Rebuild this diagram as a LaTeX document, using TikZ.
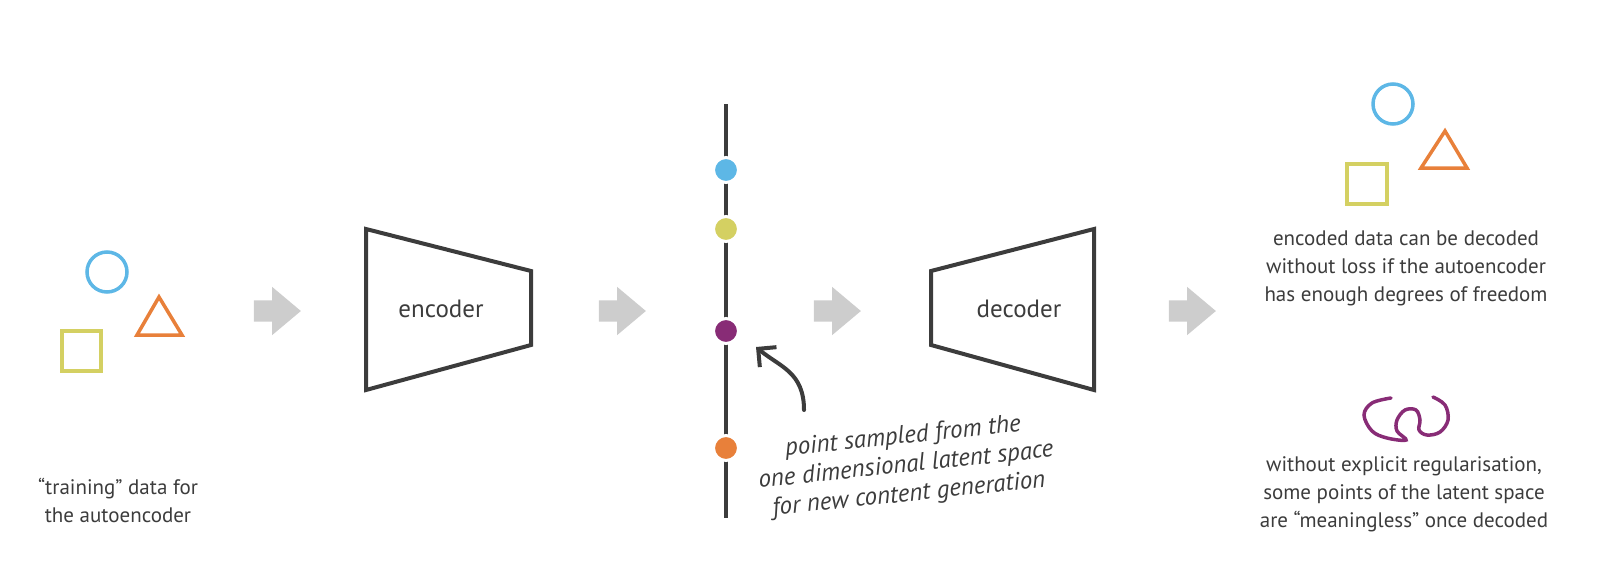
\documentclass[tikz,border=0pt]{standalone}
\usepackage{fontspec}
\setmainfont{PT Sans}
\usetikzlibrary{arrows.meta,positioning,shapes.arrows}
\definecolor{ink}{HTML}{3C3C3C}
\definecolor{cblue}{HTML}{5DB7E6}
\definecolor{corange}{HTML}{E8803A}
\definecolor{cyellow}{HTML}{D4D062}
\definecolor{cpurple}{HTML}{882C76}
\definecolor{agray}{HTML}{CDCDCD}

\begin{document}
\begin{tikzpicture}[x=1pt,y=-1pt,font=\fontsize{21}{28}\selectfont,
  shp/.style={line width=3.5pt,line join=miter},
  net/.style={draw=ink,line width=4pt,line join=miter},
  flow/.style={single arrow,fill=agray,draw=none,inner xsep=0pt,inner ysep=10.5pt,minimum height=47pt,
    minimum width=48pt,single arrow head extend=13.5pt,single arrow tip angle=80},
  dot/.style={circle,fill=#1,draw=white,line width=3pt,minimum size=25pt,inner sep=0pt},
  txt/.style={text=ink,align=center},
  lbl/.style={txt,font=\fontsize{25}{30}\selectfont},
  hand/.style={txt,font=\fontsize{25}{29}\selectfont\rmfamily\itshape}]
  \useasboundingbox (0,0) rectangle (1598,579);
  % training data
  \draw[shp,cblue] (107,272) circle[radius=20];
  \draw[shp,corange] (159,297) -- (182,335) -- (137,335) -- cycle;
  \draw[shp,cyellow] (62,331) rectangle (101,371);
  \node[txt] (train) at (118,500) {“training” data for\\the autoencoder};
  % encoder / decoder
  \draw[net] (366,229) -- (531,271) -- (531,345) -- (366,390) -- cycle;
  \node[lbl] (enc) at (441,309) {encoder};
  \draw[net] (931,271) -- (1094,229) -- (1094,390) -- (931,345) -- cycle;
  \node[lbl] (dec) at (1019,309) {decoder};
  \node[flow] (a1) at (271,311) {};
  \node[flow] (a2) at (616,311) {};
  \node[flow] (a3) at (831,311) {};
  \node[flow] (a4) at (1186,311) {};
  % latent space
  \coordinate (ztop) at (726,104); \coordinate (zbot) at (726,518);
  \draw[ink,line width=3.5pt] (ztop) -- (zbot);
  \node[dot=cblue] (zb) at (726,170) {};
  \node[dot=cyellow] (zy) at (726,229) {};
  \node[dot=cpurple] (zp) at (726,331) {};
  \node[dot=corange] (zo) at (726,448) {};
  \node[hand,rotate=6] (note) at (906,466) {point sampled from the\\one dimensional latent space\\for new content generation};
  \coordinate (tail) at (804,410);
  \coordinate (tip) at ([shift={(30,16)}]zp.center);
  \draw[net,line cap=round,-{Straight Barb[length=13pt,width=26pt]}] (tail) .. controls +(0,-38) and +(24,20) .. (tip);
  % decoded data
  \draw[shp,cblue] (1393,104) circle[radius=20];
  \draw[shp,corange] (1445,131) -- (1467,168) -- (1421,168) -- cycle;
  \draw[shp,cyellow] (1347,164) rectangle (1387,204);
  \node[txt] (good) at (1406,268) {encoded data can be decoded\\without loss if the autoencoder\\has enough degrees of freedom};
  \draw[cpurple,line width=3.5pt,line cap=round] plot[smooth,tension=0.6] coordinates {(1391,398) (1372,403) (1364,415) (1372,431) (1387,438) (1406,440) (1397,431) (1397,420) (1405,410) (1416,410) (1420,420) (1419,430) (1427,435) (1440,432) (1448,420) (1445,405) (1433,397)};
  \node[txt] (bad) at (1404,494) {without explicit regularisation,\\some points of the latent space\\are “meaningless” once decoded};
\end{tikzpicture}
\end{document}
